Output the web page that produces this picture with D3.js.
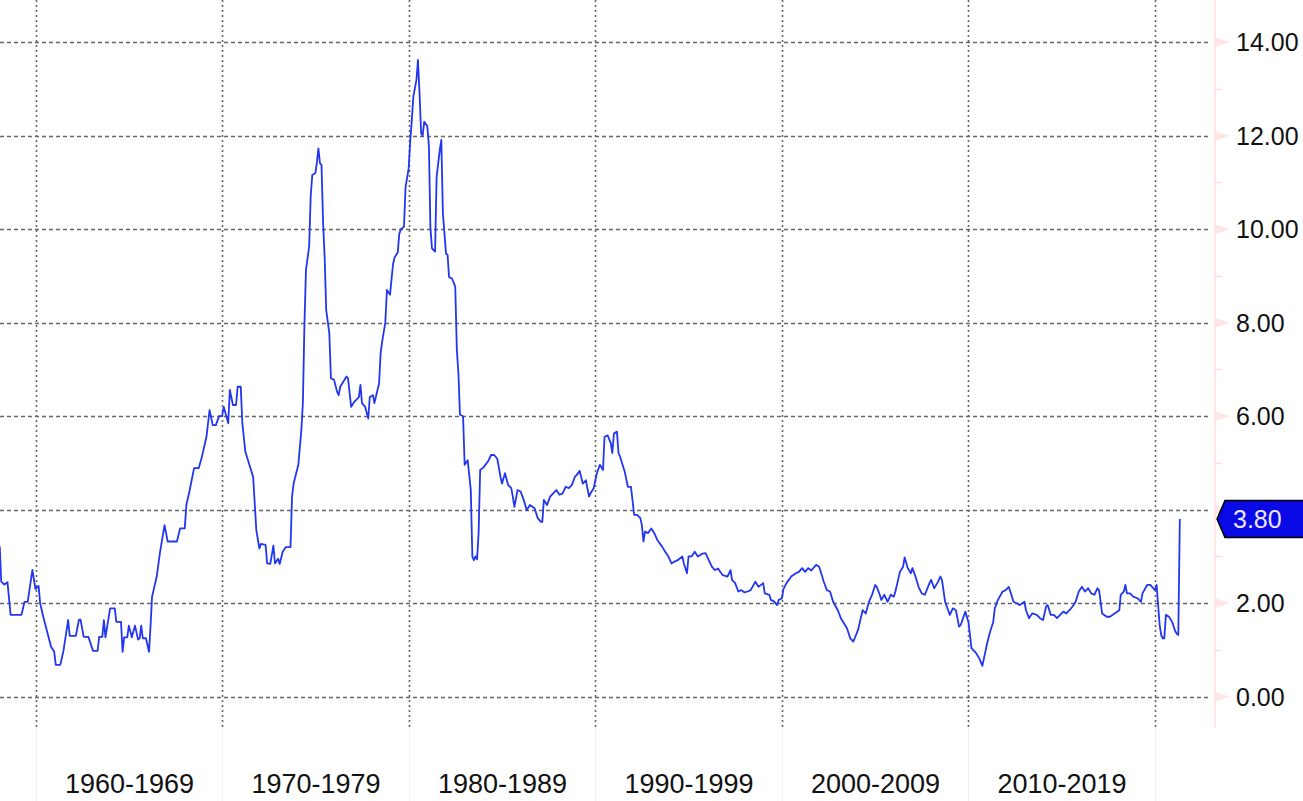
<!DOCTYPE html>
<html>
<head>
<meta charset="utf-8">
<title>Core inflation</title>
<script src="https://cdn.jsdelivr.net/npm/d3@7"></script>
<style>
  body { margin: 0; background: #fff; }
  svg { display: block; font-family: "Liberation Sans", Arial, sans-serif; }
</style>
</head>
<body>
<svg></svg>
<script>
// monthly readings, [month, % y/y]
var obs1950s = [["1958-01",3.2],["1958-02",3.2],["1958-03",2.46],["1958-05",2.4],["1958-07",2.45],["1958-09",1.75],["1958-12",1.75],
  ["1959-04",1.75],["1959-06",2.03],["1959-08",2.03],["1959-11",2.71]];
var obs1960s = [["1960-01",2.3],["1960-03",2.37],["1960-04",2.0],["1960-06",1.71],["1960-11",1.07],
  ["1961-01",0.96],["1961-02",0.68],["1961-05",0.68],["1961-07",0.98],["1961-10",1.64],["1961-11",1.3],
  ["1962-03",1.3],["1962-05",1.65],["1962-06",1.65],["1962-08",1.28],["1962-11",1.28],
  ["1963-02",0.98],["1963-05",0.98],["1963-06",1.28],["1963-08",1.28],["1963-09",1.64],["1963-10",1.27],
  ["1964-01",1.89],["1964-04",1.89],["1964-05",1.6],["1964-08",1.6],["1964-09",0.96],["1964-10",1.27],["1964-12",1.27],
  ["1965-01",1.52],["1965-03",1.27],["1965-05",1.52],["1965-07",1.22],["1965-08",1.25],["1965-09",1.52],["1965-10",1.25],["1965-12",1.25],
  ["1966-02",0.96],["1966-03",1.5],["1966-04",2.14],["1966-07",2.57],["1966-09",3.07],["1966-12",3.67],
  ["1967-02",3.32],["1967-08",3.32],["1967-10",3.6],
  ["1968-01",3.6],["1968-02",4.1],["1968-04",4.39],["1968-07",4.89],["1968-10",4.89],["1968-12",5.13],
  ["1969-03",5.56],["1969-05",6.13],["1969-07",5.81],["1969-09",5.81],["1969-11",6.0]];
var obs1970s = [["1970-01",6.0],["1970-02",6.2],["1970-05",5.85],["1970-06",6.56],["1970-08",6.24],["1970-10",6.24],["1970-11",6.63],
  ["1971-01",6.63],["1971-02",5.85],["1971-04",5.24],["1971-07",4.92],["1971-09",4.7],["1971-11",3.57],
  ["1972-01",3.17],["1972-02",3.27],["1972-05",3.25],["1972-06",2.85],["1972-08",2.84],["1972-10",3.23],["1972-11",2.85],
  ["1973-01",2.95],["1973-02",2.84],["1973-04",3.1],["1973-06",3.2],["1973-09",3.2],["1973-10",4.28],["1973-11",4.56],
  ["1974-02",4.96],["1974-04",5.7],["1974-05",6.28],["1974-06",7.99],["1974-07",9.13],["1974-09",9.63],["1974-10",10.7],["1974-11",11.16],
  ["1975-01",11.2],["1975-02",11.44],["1975-03",11.73],["1975-04",11.41],["1975-05",11.37],["1975-06",10.13],["1975-07",9.41],["1975-08",8.27],["1975-10",7.77],["1975-11",6.81],
  ["1976-01",6.78],["1976-03",6.52],["1976-04",6.45],["1976-05",6.63],["1976-09",6.85],["1976-10",6.81],["1976-12",6.2],
  ["1977-02",6.31],["1977-03",6.34],["1977-05",6.41],["1977-06",6.67],["1977-07",6.28],["1977-09",6.2],["1977-11",5.95],["1977-12",6.41],
  ["1978-02",6.45],["1978-03",6.28],["1978-05",6.56],["1978-06",6.7],["1978-07",7.35],["1978-08",7.6],["1978-10",8.0],["1978-11",8.7],
  ["1979-01",8.6],["1979-03",9.25],["1979-04",9.4],["1979-06",9.5],["1979-07",9.9],["1979-08",10.0],["1979-10",10.05],["1979-11",10.9]];
var obs1980s = [["1980-01",11.3],["1980-02",11.9],["1980-03",12.3],["1980-04",12.83],["1980-06",13.19],["1980-07",13.62],["1980-08",12.9],["1980-09",12.05],["1980-10",12.0],["1980-11",12.3],
  ["1981-01",12.2],["1981-02",11.76],["1981-03",10.05],["1981-04",9.59],["1981-06",9.52],["1981-07",11.12],["1981-09",11.69],["1981-10",11.91],["1981-11",10.34],
  ["1982-01",9.48],["1982-02",9.45],["1982-03",8.98],["1982-05",8.94],["1982-07",8.77],["1982-08",7.42],["1982-09",6.92],["1982-10",6.03],["1982-12",6.0],
  ["1983-01",4.96],["1983-03",5.06],["1983-04",4.74],["1983-05",4.42],["1983-06",2.99],["1983-07",2.92],["1983-08",3.0],["1983-09",2.94],["1983-10",3.5],["1983-11",4.85],
  ["1984-01",4.9],["1984-04",5.03],["1984-06",5.17],["1984-08",5.17],["1984-10",5.09],["1984-12",4.71],
  ["1985-01",4.56],["1985-03",4.78],["1985-05",4.53],["1985-07",4.46],["1985-08",4.28],["1985-09",4.06],["1985-11",4.42],
  ["1986-01",4.39],["1986-03",4.21],["1986-05",3.99],["1986-07",4.1],["1986-10",4.03],["1986-12",3.82],
  ["1987-02",3.74],["1987-03",3.74],["1987-04",4.21],["1987-06",4.1],["1987-08",4.28],["1987-10",4.35],["1987-12",4.42],
  ["1988-02",4.32],["1988-04",4.35],["1988-06",4.49],["1988-08",4.46],["1988-10",4.53],["1988-12",4.71],
  ["1989-01",4.74],["1989-03",4.83],["1989-05",4.56],["1989-07",4.63],["1989-09",4.28],["1989-10",4.35],["1989-12",4.46]];
var obs1990s = [["1990-02",4.78],["1990-04",4.96],["1990-06",4.85],["1990-07",5.56],["1990-09",5.59],["1990-11",5.42],["1990-12",5.21],
  ["1991-01",5.63],["1991-03",5.67],["1991-04",5.21],["1991-05",5.14],["1991-07",4.92],["1991-08",4.81],["1991-10",4.49],["1991-12",4.49],
  ["1992-02",3.89],["1992-04",3.89],["1992-06",3.82],["1992-07",3.67],["1992-08",3.32],["1992-09",3.53],["1992-11",3.5],
  ["1993-01",3.6],["1993-03",3.5],["1993-05",3.35],["1993-08",3.21],["1993-10",3.1],["1993-12",3.0],
  ["1994-02",2.85],["1994-04",2.89],["1994-06",2.92],["1994-09",3.0],["1994-10",2.85],["1994-12",2.64],
  ["1995-01",3.0],["1995-03",3.0],["1995-05",3.1],["1995-07",3.0],["1995-10",3.06],["1995-12",3.07],
  ["1996-02",2.92],["1996-04",2.78],["1996-06",2.71],["1996-08",2.74],["1996-10",2.64],["1996-11",2.6],
  ["1997-02",2.57],["1997-04",2.71],["1997-05",2.5],["1997-07",2.43],["1997-09",2.25],["1997-11",2.28],
  ["1998-01",2.23],["1998-03",2.25],["1998-05",2.28],["1998-08",2.46],["1998-10",2.35],
  ["1999-01",2.43],["1999-02",2.21],["1999-05",2.18],["1999-06",2.07],["1999-08",2.04],["1999-10",1.96],["1999-11",2.07]];
var obs2000s = [["2000-01",2.1],["2000-02",2.3],["2000-04",2.43],["2000-06",2.52],["2000-07",2.57],["2000-10",2.64],["2000-12",2.67],
  ["2001-02",2.75],["2001-04",2.67],["2001-06",2.75],["2001-08",2.7],["2001-11",2.82],
  ["2002-01",2.78],["2002-03",2.57],["2002-04",2.46],["2002-06",2.28],["2002-08",2.25],["2002-10",2.03],
  ["2003-01",1.85],["2003-03",1.68],["2003-05",1.57],["2003-07",1.46],["2003-09",1.25],["2003-11",1.18],
  ["2004-02",1.43],["2004-04",1.71],["2004-05",1.85],["2004-07",1.78],["2004-09",2.03],["2004-11",2.18],
  ["2005-01",2.39],["2005-02",2.35],["2005-04",2.18],["2005-05",2.07],["2005-07",2.18],["2005-09",2.03],["2005-11",2.18],
  ["2006-01",2.14],["2006-02",2.25],["2006-05",2.67],["2006-07",2.78],["2006-08",2.98],["2006-10",2.75],["2006-12",2.64],
  ["2007-01",2.75],["2007-03",2.57],["2007-05",2.35],["2007-07",2.21],["2007-09",2.18],["2007-12",2.43],
  ["2008-01",2.5],["2008-03",2.32],["2008-05",2.43],["2008-07",2.57],["2008-08",2.5],["2008-10",2.03],
  ["2009-01",1.75],["2009-03",1.89],["2009-05",1.85],["2009-07",1.5],["2009-08",1.53],["2009-11",1.82],["2009-12",1.71]];
var obs2010s = [["2010-01",1.6],["2010-03",1.04],["2010-06",0.93],["2010-08",0.82],["2010-10",0.66],["2010-11",0.82],
  ["2011-01",1.14],["2011-03",1.39],["2011-05",1.6],["2011-06",1.89],["2011-08",2.07],["2011-11",2.25],
  ["2012-01",2.28],["2012-03",2.35],["2012-04",2.25],["2012-06",2.03],["2012-08",2.0],["2012-10",1.96],
  ["2013-01",2.03],["2013-02",1.85],["2013-04",1.68],["2013-06",1.78],["2013-09",1.75],["2013-11",1.68],
  ["2014-01",1.64],["2014-03",1.93],["2014-04",1.96],["2014-06",1.75],["2014-08",1.75],["2014-10",1.68],["2014-12",1.75],
  ["2015-02",1.82],["2015-04",1.78],["2015-06",1.85],["2015-08",1.93],["2015-10",2.03],["2015-12",2.25],
  ["2016-02",2.35],["2016-04",2.25],["2016-06",2.32],["2016-08",2.21],["2016-10",2.18],["2016-12",2.32],
  ["2017-01",2.28],["2017-03",1.78],["2017-06",1.71],["2017-08",1.71],["2017-11",1.78],
  ["2018-02",1.85],["2018-03",2.18],["2018-05",2.25],["2018-06",2.39],["2018-07",2.21],["2018-09",2.21],["2018-11",2.14],
  ["2019-02",2.1],["2019-04",2.03],["2019-05",2.21],["2019-08",2.39],["2019-10",2.39]];
var obs2020s = [["2020-01",2.28],["2020-02",2.39],["2020-04",1.53],["2020-05",1.32],["2020-06",1.25],["2020-07",1.25],["2020-08",1.75],["2020-10",1.71],["2020-12",1.6],
  ["2021-02",1.4],["2021-03",1.35],["2021-04",1.32],["2021-05",3.8]];

var decadeLabels = ["1960-1969","1970-1979","1980-1989","1990-1999","2000-2009","2010-2019"];
var decadeYears = [1960,1970,1980,1990,2000,2010,2020];
var yTicks = [0,2,4,6,8,10,12,14];
var yMinor = [1,3,5,7,9,11,13];
var lastValue = 3.80;

var width = 1303, height = 801;
var svg = d3.select("svg").attr("width", width).attr("height", height);

var parseMonth = d3.utcParse("%Y-%m");
var data = [].concat(obs1950s, obs1960s, obs1970s, obs1980s, obs1990s, obs2000s, obs2010s, obs2020s)
  .map(function(d){ return {date: parseMonth(d[0]), v: d[1]}; });

var x = d3.scaleUtc()
  .domain([new Date(Date.UTC(1960,0,1)), new Date(Date.UTC(2020,0,1))])
  .range([35.5, 1155]);
var y = d3.scaleLinear().domain([0,14]).range([696.7, 42.2]);

var plotRight = 1210, axisX = 1215, gridBottom = 728;
function xYear(yr){ return Math.round(x(new Date(Date.UTC(yr,0,1)))) + 0.5; }

// faint decade separators under the plot
svg.append("g").selectAll("line").data(decadeYears).enter().append("line")
  .attr("x1", xYear).attr("x2", xYear)
  .attr("y1", gridBottom).attr("y2", height)
  .attr("stroke", "#f1f1f1");

// grid
svg.append("g").selectAll("line").data(yTicks).enter().append("line")
  .attr("x1", 0).attr("x2", plotRight)
  .attr("y1", function(d){ return Math.round(y(d)) + 0.5; })
  .attr("y2", function(d){ return Math.round(y(d)) + 0.5; })
  .attr("stroke", "#666").attr("stroke-width", 1.5)
  .attr("stroke-dasharray", "4,3");

svg.append("g").selectAll("line").data(decadeYears).enter().append("line")
  .attr("x1", xYear).attr("x2", xYear)
  .attr("y1", 0).attr("y2", gridBottom)
  .attr("stroke", "#666").attr("stroke-width", 1.6)
  .attr("stroke-dasharray", "2,3");

// right axis
svg.append("line")
  .attr("x1", axisX).attr("x2", axisX).attr("y1", 0).attr("y2", gridBottom)
  .attr("stroke", "#ffe0e0").attr("stroke-width", 1.5);

svg.append("g").selectAll("path").data(yTicks).enter().append("path")
  .attr("d", function(d){ var yy = y(d); return "M" + axisX + "," + (yy-5) + "L" + (axisX+15) + "," + yy + "L" + axisX + "," + (yy+5) + "Z"; })
  .attr("fill", "#ffe6e6");

svg.append("g").selectAll("line").data(yMinor).enter().append("line")
  .attr("x1", axisX).attr("x2", axisX + 7)
  .attr("y1", function(d){ return Math.round(y(d)) + 0.5; })
  .attr("y2", function(d){ return Math.round(y(d)) + 0.5; })
  .attr("stroke", "#ffdcdc").attr("stroke-width", 1.5);

// labels hidden behind the last-value badge are not drawn
svg.append("g").selectAll("text")
  .data(yTicks.filter(function(d){ return Math.abs(y(d) - y(lastValue)) > 22; }))
  .enter().append("text")
  .attr("x", 1236).attr("y", function(d){ return y(d); }).attr("dy", "0.36em")
  .attr("font-size", 25).attr("fill", "#111")
  .text(d3.format(".2f"));

// series
svg.append("clipPath").attr("id", "plot")
  .append("rect").attr("x", 0).attr("y", 0).attr("width", plotRight).attr("height", gridBottom);

var line = d3.line()
  .x(function(d){ return x(d.date); })
  .y(function(d){ return y(d.v); });

svg.append("path").datum(data)
  .attr("clip-path", "url(#plot)")
  .attr("d", line)
  .attr("fill", "none")
  .attr("stroke", "#2236f0")
  .attr("stroke-width", 1.8)
  .attr("stroke-linejoin", "round");

// last value badge
var by = y(lastValue);
svg.append("path")
  .attr("d", "M1217," + by + "L1225," + (by-18.5) + "L1310," + (by-18.5) + "L1310," + (by+18.5) + "L1225," + (by+18.5) + "Z")
  .attr("fill", "#0a0ae6").attr("stroke", "#000").attr("stroke-width", 1.5);
svg.append("text")
  .attr("x", 1233).attr("y", by).attr("dy", "0.36em")
  .attr("font-size", 25).attr("fill", "#ebe6ff")
  .text(d3.format(".2f")(lastValue));

// decade labels
svg.append("g").selectAll("text").data(decadeLabels).enter().append("text")
  .attr("x", function(d, i){ return (xYear(decadeYears[i]) + xYear(decadeYears[i+1])) / 2; })
  .attr("y", 793)
  .attr("text-anchor", "middle")
  .attr("font-size", 27).attr("fill", "#111")
  .text(function(d){ return d; });
</script>
</body>
</html>
